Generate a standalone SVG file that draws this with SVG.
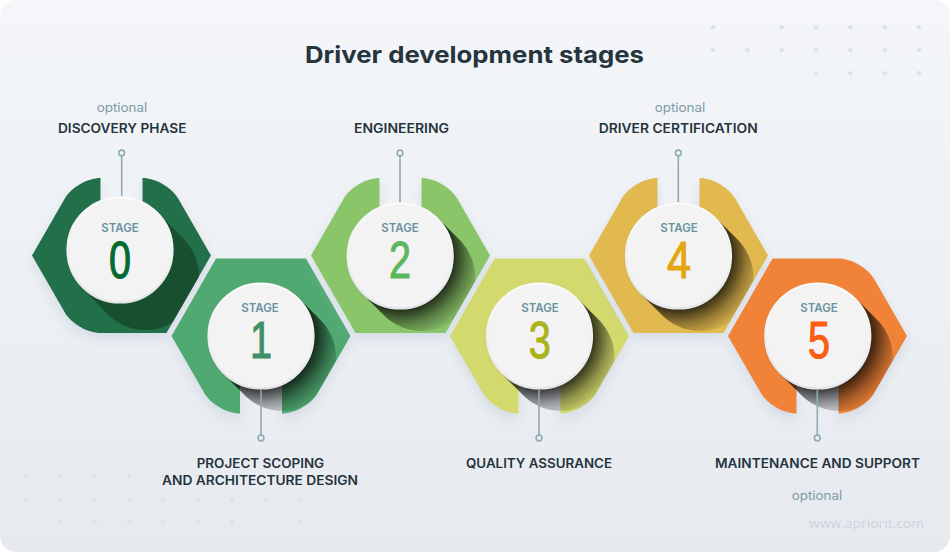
<svg xmlns="http://www.w3.org/2000/svg" width="950" height="552" viewBox="0 0 950 552">
<style>
text{font-family:"Inter","Noto Sans","Liberation Sans",sans-serif}
.title{font-size:23.5px;font-weight:700;fill:#25343d}
.lab{font-size:12.5px;font-weight:600;fill:#25343d}
.opt{font-size:12.5px;font-weight:400;fill:#7d9ba6}
.stage{font-size:11.5px;font-weight:600;fill:#6a929f;text-anchor:middle}
.num{font-size:51px;font-family:"Liberation Sans","Roboto",sans-serif;text-anchor:middle;stroke-width:1.1}
.web{font-size:13px;font-family:"Open Sans","Noto Sans",sans-serif;fill:#cad5dc}
.dots circle{fill:#dde4e8}
.conn line{stroke:#8fabb5;stroke-width:1.6}
.conn circle{stroke:#8fabb5;stroke-width:1.6;fill:#eef1f5}
.disc{fill:#f3f3f3;stroke:url(#rim);stroke-width:2.2;filter:url(#ds)}
.hex{filter:url(#hs)}
</style>
<defs>
<linearGradient id="bg" x1="0" y1="0" x2="0" y2="1"><stop offset="0" stop-color="#f4f6f9"/><stop offset="1" stop-color="#e6eaef"/></linearGradient>
<linearGradient id="rim" x1="0" y1="0" x2="0" y2="1"><stop offset="0" stop-color="#fbfbfb"/><stop offset="1" stop-color="#e3e5e8"/></linearGradient>
<radialGradient id="sh" gradientUnits="userSpaceOnUse" cx="0" cy="0" r="86"><stop offset="0.62" stop-color="#000" stop-opacity="0.75"/><stop offset="0.8" stop-color="#000" stop-opacity="0.33"/><stop offset="1" stop-color="#000" stop-opacity="0"/></radialGradient>
<filter id="hs" x="-20%" y="-20%" width="140%" height="140%"><feDropShadow dx="0" dy="6" stdDeviation="6" flood-color="#a9bac9" flood-opacity="0.35"/></filter>
<filter id="ds" x="-20%" y="-20%" width="140%" height="140%"><feDropShadow dx="0" dy="1" stdDeviation="1" flood-color="#000" flood-opacity="0.08"/></filter>
<path id="top-hex" d="M-89.5 0L-57-56.5C-50.4-68-34.2-77.5-21-77.5L-21 0L21 0L21-77.5C34.2-77.5 50.4-68 57-56.5L89.5 0L45 77.5L-45 77.5Z"/>
<path id="top-hex0" d="M-89.5 0L-57-56.5C-50.4-68-34.2-77.5-21-77.5L-21 0L21 0L21-77.5C34.2-77.5 50.4-68 57-56.5L89.5 0L45 77.5L-21 77.5C-34.2 77.5-50.4 68-57 56.5Z"/>
<path id="low-hex" d="M-89.5 0L-45-77.5L45-77.5L89.5 0L57 56.5C50.4 68 34.2 77.5 21 77.5L21 0L-21 0L-21 77.5C-34.2 77.5-50.4 68-57 56.5Z"/>
<path id="low-hex5" d="M-89.5 0L-45-77.5L21-77.5C34.2-77.5 50.4-68 57-56.5L89.5 0L57 56.5C50.4 68 34.2 77.5 21 77.5L21 0L-21 0L-21 77.5C-34.2 77.5-50.4 68-57 56.5Z"/>
<path id="hull" d="M37.8-37.8L60.8-14.8A53.5 53.5 0 0 1-14.8 60.8L-37.8 37.8Z"/>
<clipPath id="c0"><path transform="translate(121.5 255.5)" d="M-89.5 0L-45-77.5L45-77.5L89.5 0L45 77.5L-21 77.5C-34.2 77.5-50.4 68-57 56.5Z"/></clipPath>
<clipPath id="c1"><path transform="translate(261 336)" d="M-89.5 0L-45-77.5L45-77.5L89.5 0L57 56.5C50.4 68 34.2 77.5 21 77.5L-21 77.5C-34.2 77.5-50.4 68-57 56.5Z"/></clipPath>
<clipPath id="c2"><path transform="translate(400.5 255.5)" d="M-89.5 0L-45-77.5L45-77.5L89.5 0L45 77.5L-45 77.5Z"/></clipPath>
<clipPath id="c3"><path transform="translate(539.5 336)" d="M-89.5 0L-45-77.5L45-77.5L89.5 0L57 56.5C50.4 68 34.2 77.5 21 77.5L-21 77.5C-34.2 77.5-50.4 68-57 56.5Z"/></clipPath>
<clipPath id="c4"><path transform="translate(678.5 255.5)" d="M-89.5 0L-45-77.5L45-77.5L89.5 0L45 77.5L-45 77.5Z"/></clipPath>
<clipPath id="c5"><path transform="translate(817.5 336)" d="M-89.5 0L-45-77.5L45-77.5L89.5 0L57 56.5C50.4 68 34.2 77.5 21 77.5L-21 77.5C-34.2 77.5-50.4 68-57 56.5Z"/></clipPath>
</defs>
<rect width="950" height="552" fill="#ffffff"/>
<rect width="950" height="552" rx="16" fill="url(#bg)"/>
<g class="dots" id="dots-top">
<circle cx="713" cy="27.3" r="2.3"/><circle cx="781.7" cy="27.3" r="2.3"/><circle cx="816" cy="27.3" r="2.3"/><circle cx="850.3" cy="27.3" r="2.3"/><circle cx="884.7" cy="27.3" r="2.3"/><circle cx="919" cy="27.3" r="2.3"/>
<circle cx="713" cy="50.3" r="2.3"/><circle cx="747.5" cy="50.3" r="2.3"/><circle cx="781.7" cy="50.3" r="2.3"/><circle cx="816" cy="50.3" r="2.3"/><circle cx="850.3" cy="50.3" r="2.3"/><circle cx="884.7" cy="50.3" r="2.3"/><circle cx="919" cy="50.3" r="2.3"/>
<circle cx="816" cy="73.3" r="2.3"/><circle cx="850.3" cy="73.3" r="2.3"/><circle cx="884.7" cy="73.3" r="2.3"/><circle cx="919" cy="73.3" r="2.3"/>
</g>
<g class="dots" id="dots-bottom">
<circle cx="26" cy="476" r="2.3"/><circle cx="60" cy="476" r="2.3"/><circle cx="94.7" cy="476" r="2.3"/><circle cx="129" cy="476" r="2.3"/><circle cx="163" cy="476" r="2.3"/><circle cx="197.7" cy="476" r="2.3"/>
<circle cx="26" cy="499.3" r="2.3"/><circle cx="60" cy="499.3" r="2.3"/><circle cx="94.7" cy="499.3" r="2.3"/><circle cx="129" cy="499.3" r="2.3"/><circle cx="163" cy="499.3" r="2.3"/><circle cx="197.7" cy="499.3" r="2.3"/><circle cx="232" cy="499.3" r="2.3"/><circle cx="266" cy="499.3" r="2.3"/><circle cx="300.7" cy="499.3" r="2.3"/>
<circle cx="60" cy="522.3" r="2.3"/><circle cx="94.7" cy="522.3" r="2.3"/><circle cx="129" cy="522.3" r="2.3"/><circle cx="163" cy="522.3" r="2.3"/><circle cx="197.7" cy="522.3" r="2.3"/><circle cx="232" cy="522.3" r="2.3"/><circle cx="300.7" cy="522.3" r="2.3"/>
</g>
<text class="title" x="305" y="62.7" textLength="339" lengthAdjust="spacingAndGlyphs">Driver development stages</text>

<g id="stage-0">
<use href="#top-hex0" class="hex" transform="translate(121.5 255.5)" fill="#217048"/>
<g clip-path="url(#c0)"><path transform="translate(120 250)" d="M37.8-37.8L64.8-9.8A53.5 53.5 0 0 1-10.8 65.8L-37.8 37.8Z" fill="#18502f"/></g>
<circle class="disc" cx="120" cy="250" r="52.5"/>
<text class="stage" x="120" y="231.7">STAGE</text>
<text class="num" x="120" y="277.5" fill="#006b30" stroke="#006b30" textLength="22" lengthAdjust="spacingAndGlyphs">0</text>
</g>
<g id="stage-1">
<use href="#low-hex" class="hex" transform="translate(261 336)" fill="#4fa971"/>
<g clip-path="url(#c1)"><use href="#hull" transform="translate(261 336)" fill="url(#sh)"/></g>
<circle class="disc" cx="261" cy="336" r="52.5"/>
<text class="stage" x="260" y="311.7">STAGE</text>
<text class="num" x="261" y="357.5" fill="#3d9068" stroke="#3d9068" textLength="22" lengthAdjust="spacingAndGlyphs">1</text>
</g>
<g id="stage-2">
<use href="#top-hex" class="hex" transform="translate(400.5 255.5)" fill="#8bc56b"/>
<g clip-path="url(#c2)"><use href="#hull" transform="translate(400.2 256)" fill="url(#sh)"/></g>
<circle class="disc" cx="400.2" cy="256" r="52.5"/>
<text class="stage" x="400" y="231.7">STAGE</text>
<text class="num" x="400" y="277.5" fill="#5cb85c" stroke="#5cb85c" textLength="22" lengthAdjust="spacingAndGlyphs">2</text>
</g>
<g id="stage-3">
<use href="#low-hex" class="hex" transform="translate(539.5 336)" fill="#d4d96d"/>
<g clip-path="url(#c3)"><use href="#hull" transform="translate(539.5 336)" fill="url(#sh)"/></g>
<circle class="disc" cx="539.5" cy="336" r="52.5"/>
<text class="stage" x="540" y="311.7">STAGE</text>
<text class="num" x="539.7" y="357.5" fill="#acb31a" stroke="#acb31a" textLength="22" lengthAdjust="spacingAndGlyphs">3</text>
</g>
<g id="stage-4">
<use href="#top-hex" class="hex" transform="translate(678.5 255.5)" fill="#e2b94f"/>
<g clip-path="url(#c4)"><use href="#hull" transform="translate(678.5 256)" fill="url(#sh)"/></g>
<circle class="disc" cx="678.5" cy="256" r="52.5"/>
<text class="stage" x="679" y="231.7">STAGE</text>
<text class="num" x="679" y="277.5" fill="#e4a60f" stroke="#e4a60f" textLength="24" lengthAdjust="spacingAndGlyphs">4</text>
</g>
<g id="stage-5">
<use href="#low-hex5" class="hex" transform="translate(817.5 336)" fill="#f08339"/>
<g clip-path="url(#c5)"><use href="#hull" transform="translate(817.8 336)" fill="url(#sh)"/></g>
<circle class="disc" cx="817.8" cy="336" r="52.5"/>
<text class="stage" x="819" y="311.7">STAGE</text>
<text class="num" x="819" y="357.5" fill="#fc5d10" stroke="#fc5d10" textLength="22" lengthAdjust="spacingAndGlyphs">5</text>
</g>

<g id="connectors" class="conn">
<line x1="121.7" y1="156" x2="121.7" y2="196"/><circle cx="121.7" cy="153" r="2.9"/>
<line x1="400" y1="156" x2="400" y2="202"/><circle cx="400" cy="153" r="2.9"/>
<line x1="678.3" y1="156" x2="678.3" y2="202"/><circle cx="678.3" cy="153" r="2.9"/>
<line x1="261" y1="390" x2="261" y2="435"/><circle cx="261" cy="438" r="2.9"/>
<line x1="539" y1="390" x2="539" y2="435"/><circle cx="539" cy="438" r="2.9"/>
<line x1="817.3" y1="390" x2="817.3" y2="435"/><circle cx="817.3" cy="438" r="2.9"/>
</g>

<text class="opt" x="96.7" y="112" textLength="50.5" lengthAdjust="spacingAndGlyphs">optional</text>
<text class="lab" x="58" y="133" textLength="128.5" lengthAdjust="spacingAndGlyphs">DISCOVERY PHASE</text>
<text class="lab" x="354" y="133" textLength="95" lengthAdjust="spacingAndGlyphs">ENGINEERING</text>
<text class="opt" x="654.7" y="112" textLength="50.5" lengthAdjust="spacingAndGlyphs">optional</text>
<text class="lab" x="598.7" y="133" textLength="159" lengthAdjust="spacingAndGlyphs">DRIVER CERTIFICATION</text>
<text class="lab" x="196.7" y="468" textLength="127.5" lengthAdjust="spacingAndGlyphs">PROJECT SCOPING</text>
<text class="lab" x="162" y="485" textLength="196" lengthAdjust="spacingAndGlyphs">AND ARCHITECTURE DESIGN</text>
<text class="lab" x="466" y="468" textLength="146" lengthAdjust="spacingAndGlyphs">QUALITY ASSURANCE</text>
<text class="lab" x="715" y="468" textLength="205" lengthAdjust="spacingAndGlyphs">MAINTENANCE AND SUPPORT</text>
<text class="opt" x="791.7" y="500" textLength="50.5" lengthAdjust="spacingAndGlyphs">optional</text>
<text class="web" x="809" y="528" textLength="115" lengthAdjust="spacingAndGlyphs">www.apriorit.com</text>
</svg>
